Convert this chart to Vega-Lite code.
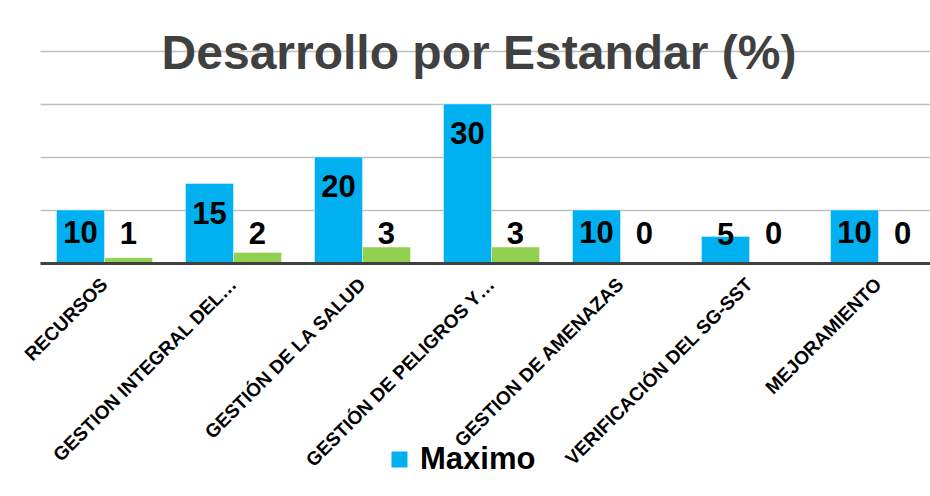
{
  "$schema": "https://vega.github.io/schema/vega-lite/v6.json",
  "width": 890,
  "height": 212,
  "autosize": {"type": "none"},
  "padding": {"left": 40, "top": 51, "right": 0, "bottom": 233},
  "background": "white",
  "title": {
    "text": "Desarrollo por Estandar (%)",
    "fontSize": 48,
    "font": "Liberation Sans",
    "fontWeight": "bold",
    "color": "#404040",
    "anchor": "middle",
    "baseline": "alphabetic",
    "offset": -66,
    "dx": -6
  },
  "config": {"view": {"stroke": null}, "font": "Liberation Sans"},
  "data": {
    "values": [
      {"cat": "RECURSOS", "serie": "Maximo", "value": 10},
      {"cat": "RECURSOS", "serie": "Obtenido", "value": 1},
      {"cat": "GESTION INTEGRAL DEL…", "serie": "Maximo", "value": 15},
      {"cat": "GESTION INTEGRAL DEL…", "serie": "Obtenido", "value": 2},
      {"cat": "GESTIÓN DE LA SALUD", "serie": "Maximo", "value": 20},
      {"cat": "GESTIÓN DE LA SALUD", "serie": "Obtenido", "value": 3},
      {"cat": "GESTIÓN DE PELIGROS Y…", "serie": "Maximo", "value": 30},
      {"cat": "GESTIÓN DE PELIGROS Y…", "serie": "Obtenido", "value": 3},
      {"cat": "GESTION DE AMENAZAS", "serie": "Maximo", "value": 10},
      {"cat": "GESTION DE AMENAZAS", "serie": "Obtenido", "value": 0},
      {"cat": "VERIFICACIÓN DEL SG-SST", "serie": "Maximo", "value": 5},
      {"cat": "VERIFICACIÓN DEL SG-SST", "serie": "Obtenido", "value": 0},
      {"cat": "MEJORAMIENTO", "serie": "Maximo", "value": 10},
      {"cat": "MEJORAMIENTO", "serie": "Obtenido", "value": 0}
    ]
  },
  "encoding": {
    "x": {
      "field": "cat",
      "type": "nominal",
      "sort": null,
      "scale": {"paddingInner": 0.256, "paddingOuter": 0.0775, "align": 0.825},
      "axis": {
        "title": null,
        "ticks": false,
        "grid": false,
        "domainColor": "#404040",
        "domainWidth": 3,
        "labelAngle": -45,
        "labelAlign": "right",
        "labelBaseline": "middle",
        "labelFont": "Liberation Sans",
        "labelFontWeight": "bold",
        "labelFontSize": 19,
        "labelColor": "#000000",
        "labelPadding": 18,
        "labelLimit": 0,
        "labelOverlap": false,
        "zindex": 1
      }
    },
    "xOffset": {"field": "serie", "sort": ["Maximo", "Obtenido"]},
    "y": {
      "field": "value",
      "type": "quantitative",
      "scale": {"domain": [0, 40]},
      "axis": {
        "title": null,
        "labels": false,
        "ticks": false,
        "domain": false,
        "values": [0, 10, 20, 30, 40],
        "gridColor": "#bfbfbf",
        "gridWidth": 1.3
      }
    }
  },
  "layer": [
    {
      "mark": {"type": "bar", "stroke": "#ffffff", "strokeWidth": 1, "strokeOpacity": 0.4},
      "encoding": {
        "color": {
          "field": "serie",
          "type": "nominal",
          "scale": {"domain": ["Maximo", "Obtenido"], "range": ["#00B0F0", "#92D050"]},
          "legend": {
            "values": ["Maximo"],
            "orient": "none",
            "legendX": 344,
            "legendY": 393,
            "title": null,
            "direction": "horizontal",
            "labelFont": "Liberation Sans",
            "labelFontSize": 31,
            "labelFontWeight": "bold",
            "labelColor": "#000000",
            "labelOffset": 5,
            "symbolType": "square",
            "symbolSize": 256,
            "symbolStrokeWidth": 0,
            "padding": 0
          }
        }
      }
    },
    {
      "transform": [{"filter": "datum.serie == 'Maximo' && datum.value >= 12"}],
      "mark": {"type": "text", "baseline": "middle", "dy": 31, "fontSize": 31, "fontWeight": "bold", "color": "#000000"},
      "encoding": {"text": {"field": "value", "type": "quantitative"}}
    },
    {
      "transform": [{"filter": "datum.serie == 'Maximo' && datum.value >= 8 && datum.value < 12"}],
      "mark": {"type": "text", "baseline": "middle", "dy": 24, "fontSize": 31, "fontWeight": "bold", "color": "#000000"},
      "encoding": {"text": {"field": "value", "type": "quantitative"}}
    },
    {
      "transform": [{"filter": "datum.serie == 'Maximo' && datum.value < 8"}],
      "mark": {"type": "text", "baseline": "middle", "dy": -1, "fontSize": 31, "fontWeight": "bold", "color": "#000000"},
      "encoding": {"text": {"field": "value", "type": "quantitative"}}
    },
    {
      "transform": [{"filter": "datum.serie == 'Obtenido'"}],
      "mark": {"type": "text", "baseline": "middle", "fontSize": 31, "fontWeight": "bold", "color": "#000000"},
      "encoding": {
        "y": {"datum": 5.2},
        "text": {"field": "value", "type": "quantitative"}
      }
    }
  ]
}
